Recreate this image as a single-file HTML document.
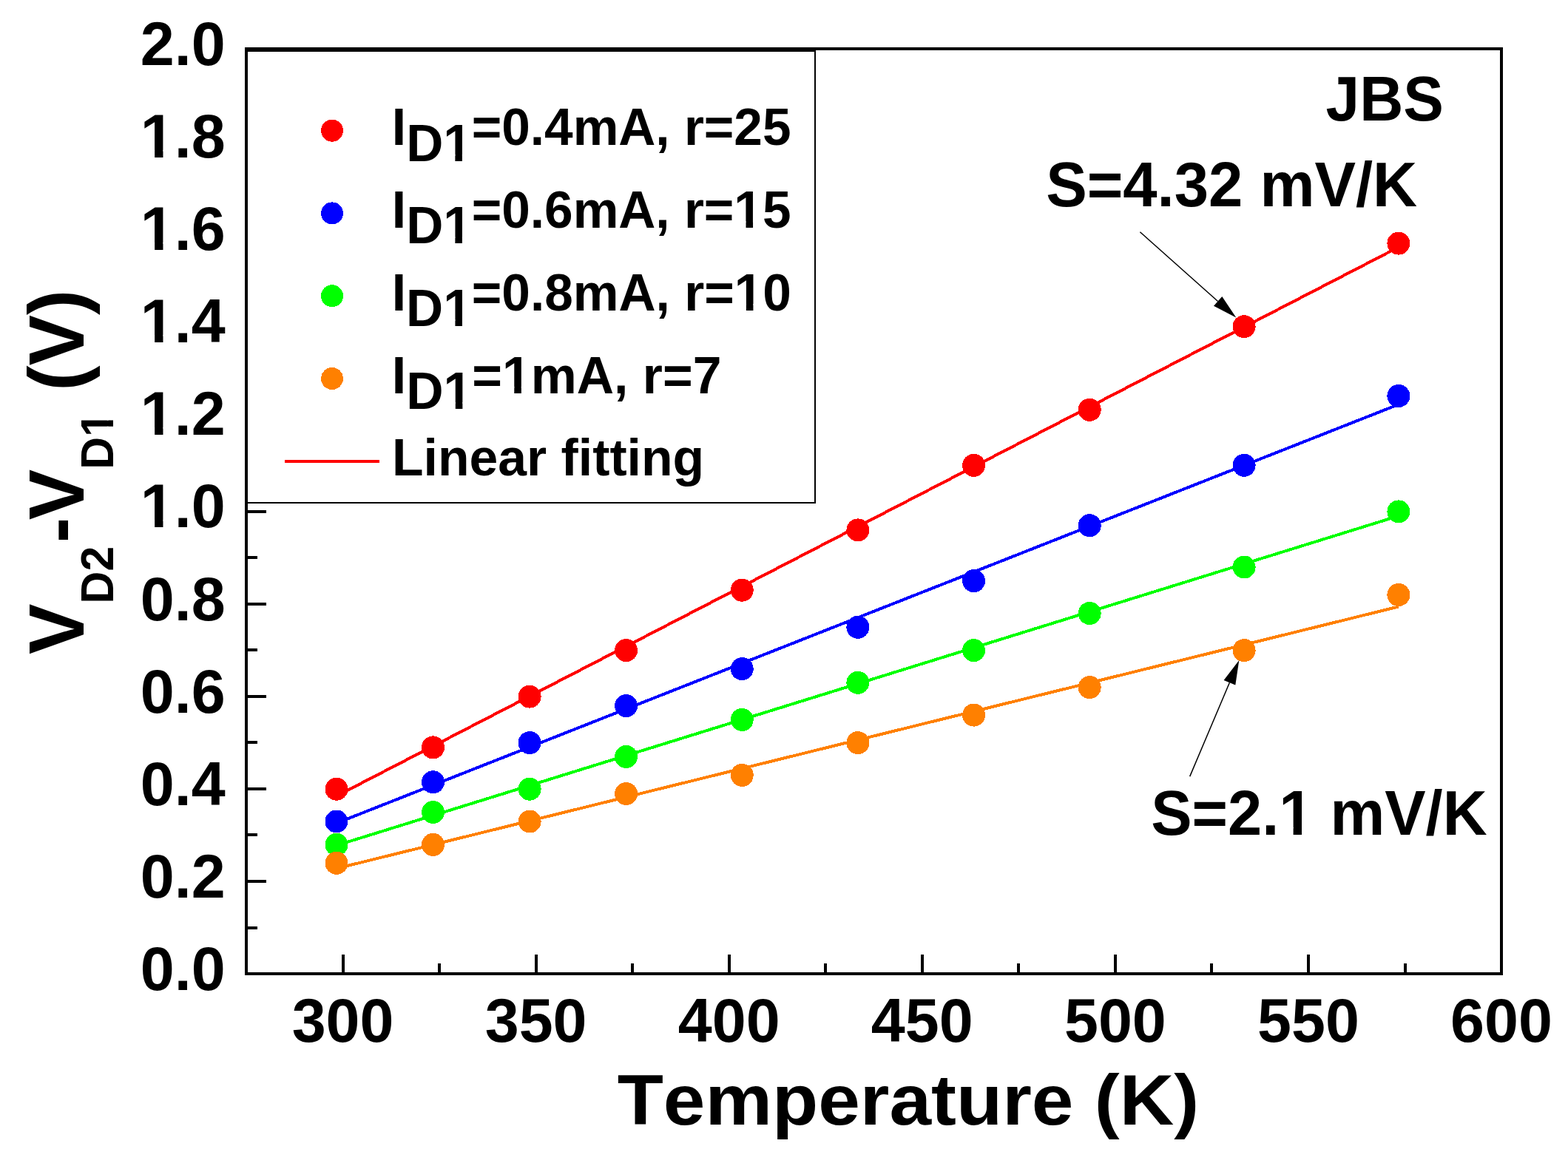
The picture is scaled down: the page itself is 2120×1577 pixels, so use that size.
<!DOCTYPE html><html><head><meta charset="utf-8"><title>VD2-VD1 vs Temperature</title>
<style>html,body{margin:0;padding:0;background:#fff;}svg{display:block;}text{font-family:'Liberation Sans',Arial,sans-serif;font-weight:bold;fill:#000;font-kerning:none;}</style></head><body>
<svg width="2120" height="1577" viewBox="0 0 2120 1577">
<rect x="0" y="0" width="2120" height="1577" fill="#fff"/>
<g shape-rendering="crispEdges">
<line x1="455.0" y1="1076.6" x2="1890.9" y2="334.3" stroke="#ff0000" stroke-width="4"/>
<line x1="455.0" y1="1113.3" x2="1890.9" y2="547.0" stroke="#0000ff" stroke-width="4"/>
<line x1="455.0" y1="1143.4" x2="1890.9" y2="697.8" stroke="#00ff00" stroke-width="4"/>
<line x1="455.0" y1="1174.6" x2="1890.9" y2="820.5" stroke="#ff8000" stroke-width="4"/>
<circle cx="455.0" cy="1067.2" r="15.5" fill="#ff0000"/>
<circle cx="585.5" cy="1010.9" r="15.5" fill="#ff0000"/>
<circle cx="716.1" cy="942.1" r="15.5" fill="#ff0000"/>
<circle cx="846.6" cy="879.6" r="15.5" fill="#ff0000"/>
<circle cx="1003.3" cy="798.2" r="15.5" fill="#ff0000"/>
<circle cx="1159.9" cy="716.9" r="15.5" fill="#ff0000"/>
<circle cx="1316.6" cy="629.3" r="15.5" fill="#ff0000"/>
<circle cx="1473.2" cy="554.3" r="15.5" fill="#ff0000"/>
<circle cx="1682.1" cy="441.7" r="15.5" fill="#ff0000"/>
<circle cx="1890.9" cy="329.1" r="15.5" fill="#ff0000"/>
<circle cx="455.0" cy="1111.0" r="15.5" fill="#0000ff"/>
<circle cx="585.5" cy="1057.8" r="15.5" fill="#0000ff"/>
<circle cx="716.1" cy="1004.6" r="15.5" fill="#0000ff"/>
<circle cx="846.6" cy="954.6" r="15.5" fill="#0000ff"/>
<circle cx="1003.3" cy="904.6" r="15.5" fill="#0000ff"/>
<circle cx="1159.9" cy="848.3" r="15.5" fill="#0000ff"/>
<circle cx="1316.6" cy="785.7" r="15.5" fill="#0000ff"/>
<circle cx="1473.2" cy="710.7" r="15.5" fill="#0000ff"/>
<circle cx="1682.1" cy="629.3" r="15.5" fill="#0000ff"/>
<circle cx="1890.9" cy="535.5" r="15.5" fill="#0000ff"/>
<circle cx="455.0" cy="1142.3" r="15.5" fill="#00ff00"/>
<circle cx="585.5" cy="1098.5" r="15.5" fill="#00ff00"/>
<circle cx="716.1" cy="1067.2" r="15.5" fill="#00ff00"/>
<circle cx="846.6" cy="1023.4" r="15.5" fill="#00ff00"/>
<circle cx="1003.3" cy="973.4" r="15.5" fill="#00ff00"/>
<circle cx="1159.9" cy="923.3" r="15.5" fill="#00ff00"/>
<circle cx="1316.6" cy="879.6" r="15.5" fill="#00ff00"/>
<circle cx="1473.2" cy="829.5" r="15.5" fill="#00ff00"/>
<circle cx="1682.1" cy="767.0" r="15.5" fill="#00ff00"/>
<circle cx="1890.9" cy="691.9" r="15.5" fill="#00ff00"/>
<circle cx="455.0" cy="1167.3" r="15.5" fill="#ff8000"/>
<circle cx="585.5" cy="1142.3" r="15.5" fill="#ff8000"/>
<circle cx="716.1" cy="1111.0" r="15.5" fill="#ff8000"/>
<circle cx="846.6" cy="1073.5" r="15.5" fill="#ff8000"/>
<circle cx="1003.3" cy="1048.4" r="15.5" fill="#ff8000"/>
<circle cx="1159.9" cy="1004.6" r="15.5" fill="#ff8000"/>
<circle cx="1316.6" cy="967.1" r="15.5" fill="#ff8000"/>
<circle cx="1473.2" cy="929.6" r="15.5" fill="#ff8000"/>
<circle cx="1682.1" cy="879.6" r="15.5" fill="#ff8000"/>
<circle cx="1890.9" cy="804.5" r="15.5" fill="#ff8000"/>
</g>
<path d="M463.5 1315.0V1291.0 M724.6 1315.0V1291.0 M985.7 1315.0V1291.0 M1246.8 1315.0V1291.0 M1507.8 1315.0V1291.0 M1768.9 1315.0V1291.0 M2030.0 1315.0V1291.0 M594.1 1315.0V1303.0 M855.2 1315.0V1303.0 M1116.2 1315.0V1303.0 M1377.3 1315.0V1303.0 M1638.4 1315.0V1303.0 M1899.5 1315.0V1303.0 M335.0 1191.9H360.0 M335.0 1066.8H360.0 M335.0 941.7H360.0 M335.0 816.6H360.0 M335.0 691.5H360.0 M335.0 566.4H360.0 M335.0 441.3H360.0 M335.0 316.2H360.0 M335.0 191.1H360.0 M335.0 1254.5H348.0 M335.0 1129.3H348.0 M335.0 1004.2H348.0 M335.0 879.1H348.0 M335.0 754.0H348.0 M335.0 628.9H348.0 M335.0 503.8H348.0 M335.0 378.7H348.0 M335.0 253.6H348.0 M335.0 128.5H348.0" stroke="#000" stroke-width="4" fill="none" shape-rendering="crispEdges"/>
<rect x="334" y="69" width="768" height="611" fill="#fff" stroke="#000" stroke-width="2" shape-rendering="crispEdges"/>
<rect x="333.0" y="66.0" width="1697.0" height="1251.0" fill="none" stroke="#000" stroke-width="4" shape-rendering="crispEdges"/>
<text transform="matrix(1.0073,0,0,1.0138,463.54,1408.89)" font-size="82" text-anchor="middle">300</text>
<text transform="matrix(1.0073,0,0,1.0138,724.62,1408.89)" font-size="82" text-anchor="middle">350</text>
<text transform="matrix(1.0073,0,0,1.0138,985.69,1408.89)" font-size="82" text-anchor="middle">400</text>
<text transform="matrix(1.0073,0,0,1.0138,1246.77,1408.89)" font-size="82" text-anchor="middle">450</text>
<text transform="matrix(1.0073,0,0,1.0138,1507.85,1408.89)" font-size="82" text-anchor="middle">500</text>
<text transform="matrix(1.0073,0,0,1.0138,1768.92,1408.89)" font-size="82" text-anchor="middle">550</text>
<text transform="matrix(1.0073,0,0,1.0138,2030.00,1408.89)" font-size="82" text-anchor="middle">600</text>
<text transform="matrix(1.0080,0,0,1.0207,304.72,1338.98)" font-size="82" text-anchor="end">0.0</text>
<text transform="matrix(1.0080,0,0,1.0207,304.72,1213.88)" font-size="82" text-anchor="end">0.2</text>
<text transform="matrix(1.0080,0,0,1.0207,304.72,1088.78)" font-size="82" text-anchor="end">0.4</text>
<text transform="matrix(1.0080,0,0,1.0207,304.72,963.68)" font-size="82" text-anchor="end">0.6</text>
<text transform="matrix(1.0080,0,0,1.0207,304.72,838.58)" font-size="82" text-anchor="end">0.8</text>
<text transform="matrix(1.0080,0,0,1.0207,304.72,713.48)" font-size="82" text-anchor="end">1.0</text>
<text transform="matrix(1.0080,0,0,1.0207,304.72,588.38)" font-size="82" text-anchor="end">1.2</text>
<text transform="matrix(1.0080,0,0,1.0207,304.72,463.28)" font-size="82" text-anchor="end">1.4</text>
<text transform="matrix(1.0080,0,0,1.0207,304.72,338.18)" font-size="82" text-anchor="end">1.6</text>
<text transform="matrix(1.0080,0,0,1.0207,304.72,213.08)" font-size="82" text-anchor="end">1.8</text>
<text transform="matrix(1.0080,0,0,1.0207,304.72,87.98)" font-size="82" text-anchor="end">2.0</text>
<text transform="matrix(1.0391,0,0,0.9850,834.66,1520.80)" font-size="98" text-anchor="start">Temperature (K)</text>
<text transform="translate(112.90,884.90) rotate(-90) scale(0.9967,1.0200)" font-size="103" text-anchor="start">V<tspan font-size="61" dy="39">D2</tspan><tspan dy="-39" dx="4.7">-</tspan><tspan dx="-3.5">V</tspan><tspan font-size="61" dy="39">D1</tspan><tspan dy="-39"> (V)</tspan></text>
<circle cx="449" cy="176.7" r="15" fill="#ff0000" shape-rendering="crispEdges"/>
<text transform="matrix(0.9907,0,0,1.0150,529.85,196.40)" font-size="70" text-anchor="start">I<tspan font-size="70" dy="21">D1</tspan><tspan dy="-21">=0.4mA, r=25</tspan></text>
<circle cx="449" cy="288.4" r="15" fill="#0000ff" shape-rendering="crispEdges"/>
<text transform="matrix(0.9907,0,0,1.0150,529.85,308.15)" font-size="70" text-anchor="start">I<tspan font-size="70" dy="21">D1</tspan><tspan dy="-21">=0.6mA, r=15</tspan></text>
<circle cx="449" cy="400.2" r="15" fill="#00ff00" shape-rendering="crispEdges"/>
<text transform="matrix(0.9914,0,0,1.0150,529.84,419.90)" font-size="70" text-anchor="start">I<tspan font-size="70" dy="21">D1</tspan><tspan dy="-21">=0.8mA, r=10</tspan></text>
<circle cx="449" cy="512.0" r="15" fill="#ff8000" shape-rendering="crispEdges"/>
<text transform="matrix(0.9959,0,0,1.0150,529.82,531.65)" font-size="70" text-anchor="start">I<tspan font-size="70" dy="21">D1</tspan><tspan dy="-21">=1mA, r=7</tspan></text>
<rect x="384.5" y="621.5" width="128.6" height="4" fill="#ff0000" shape-rendering="crispEdges"/>
<text transform="matrix(0.9961,0,0,1.0150,530.02,643.20)" font-size="70" text-anchor="start">Linear fitting</text>
<text transform="matrix(0.9994,0,0,1.0300,1792.60,162.50)" font-size="82" text-anchor="start">JBS</text>
<text transform="matrix(1.0151,0,0,1.0300,1414.15,279.20)" font-size="82" text-anchor="start">S=4.32 mV/K</text>
<text transform="matrix(1.0119,0,0,1.0300,1556.26,1129.20)" font-size="82" text-anchor="start">S=2.1 mV/K</text>
<line x1="1541.4" y1="313.8" x2="1646.6" y2="407.5" stroke="#000" stroke-width="1.5"/><polygon points="1671.3,429.4 1641.0,413.8 1652.3,401.1" fill="#000"/>
<line x1="1608.7" y1="1050.1" x2="1662.4" y2="923.3" stroke="#000" stroke-width="1.5"/><polygon points="1675.3,892.9 1670.3,926.6 1654.6,920.0" fill="#000"/>
<g transform="matrix(1.0080,0,0,1.0207,304.72,713.48)" fill="#fff"><rect x="-110.01" y="-9.97" width="15.17" height="11.17"/><rect x="-83.58" y="-9.97" width="14.13" height="11.17"/></g>
<g transform="matrix(1.0080,0,0,1.0207,304.72,588.38)" fill="#fff"><rect x="-110.01" y="-9.97" width="15.17" height="11.17"/><rect x="-83.58" y="-9.97" width="14.13" height="11.17"/></g>
<g transform="matrix(1.0080,0,0,1.0207,304.72,463.28)" fill="#fff"><rect x="-110.01" y="-9.97" width="15.17" height="11.17"/><rect x="-83.58" y="-9.97" width="14.13" height="11.17"/></g>
<g transform="matrix(1.0080,0,0,1.0207,304.72,338.18)" fill="#fff"><rect x="-110.01" y="-9.97" width="15.17" height="11.17"/><rect x="-83.58" y="-9.97" width="14.13" height="11.17"/></g>
<g transform="matrix(1.0080,0,0,1.0207,304.72,213.08)" fill="#fff"><rect x="-110.01" y="-9.97" width="15.17" height="11.17"/><rect x="-83.58" y="-9.97" width="14.13" height="11.17"/></g>
<g transform="translate(112.90,884.90) rotate(-90) scale(0.9967,1.0200)" fill="#fff"><rect x="297.56" y="31.17" width="11.60" height="9.03"/><rect x="317.52" y="31.17" width="10.82" height="9.03"/></g>
<g transform="matrix(0.9907,0,0,1.0150,529.85,196.40)" fill="#fff"><rect x="73.19" y="12.26" width="13.13" height="9.94"/><rect x="95.93" y="12.26" width="12.24" height="9.94"/></g>
<g transform="matrix(0.9907,0,0,1.0150,529.85,308.15)" fill="#fff"><rect x="73.19" y="12.26" width="13.13" height="9.94"/><rect x="95.93" y="12.26" width="12.24" height="9.94"/></g>
<g transform="matrix(0.9907,0,0,1.0150,529.85,308.15)" fill="#fff"><rect x="470.05" y="-8.74" width="13.13" height="9.94"/><rect x="492.78" y="-8.74" width="12.24" height="9.94"/></g>
<g transform="matrix(0.9914,0,0,1.0150,529.84,419.90)" fill="#fff"><rect x="73.20" y="12.26" width="13.13" height="9.94"/><rect x="95.93" y="12.26" width="12.24" height="9.94"/></g>
<g transform="matrix(0.9914,0,0,1.0150,529.84,419.90)" fill="#fff"><rect x="470.07" y="-8.74" width="13.13" height="9.94"/><rect x="492.81" y="-8.74" width="12.24" height="9.94"/></g>
<g transform="matrix(0.9959,0,0,1.0150,529.82,531.65)" fill="#fff"><rect x="73.20" y="12.26" width="13.13" height="9.94"/><rect x="95.93" y="12.26" width="12.24" height="9.94"/></g>
<g transform="matrix(0.9959,0,0,1.0150,529.82,531.65)" fill="#fff"><rect x="153.01" y="-8.74" width="13.13" height="9.94"/><rect x="175.74" y="-8.74" width="12.24" height="9.94"/></g>
<g transform="matrix(1.0119,0,0,1.0300,1556.26,1129.20)" fill="#fff"><rect x="174.92" y="-9.97" width="15.17" height="11.17"/><rect x="201.35" y="-9.97" width="14.13" height="11.17"/></g>
</svg></body></html>
